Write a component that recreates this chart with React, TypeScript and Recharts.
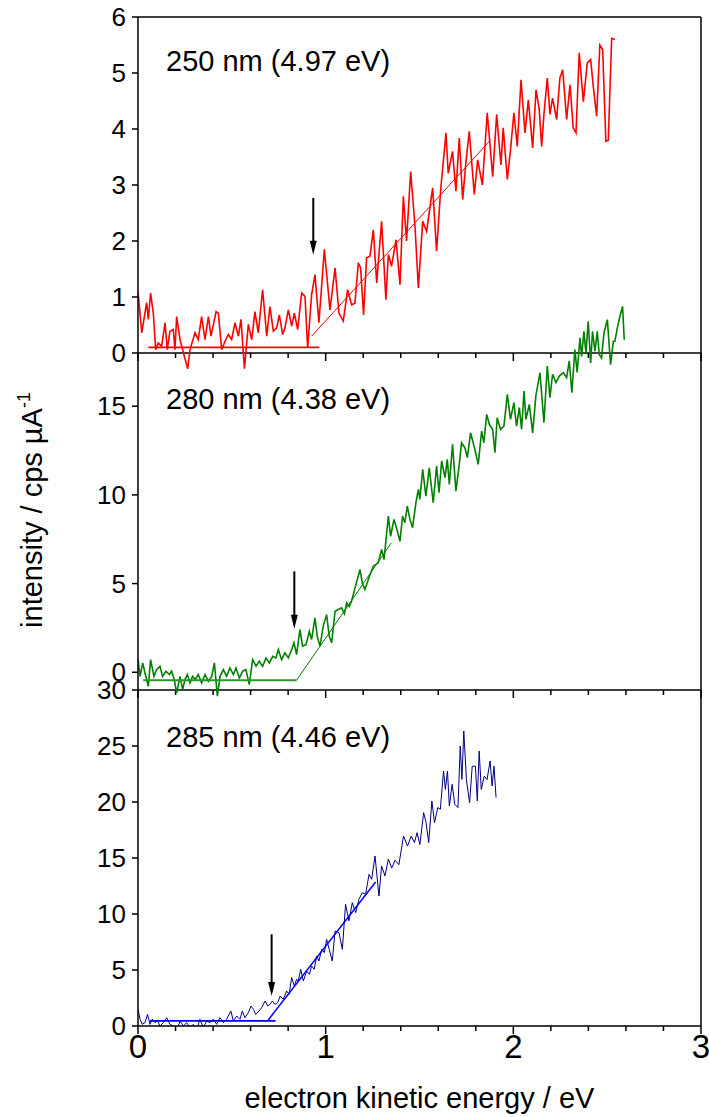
import { ComposedChart, Line, XAxis, YAxis, ReferenceLine, ReferenceDot, Label } from 'recharts';

const FONT = '"Liberation Sans", Arial, sans-serif';

// 250 nm trace (top panel), [eKE / eV, intensity]
const red250: [number, number][] = [
  [0.0, 1.1], [0.02, 0.36], [0.046, 0.9], [0.055, 0.6], [0.067, 1.07], [0.082, 0.7], [0.094, 0.06],
  [0.108, 0.18], [0.126, 0.12], [0.144, 0.54], [0.156, 0.06], [0.17, 0.39], [0.188, 0.42], [0.197, 0.06],
  [0.206, 0.65], [0.224, 0.24], [0.247, -0.06], [0.265, -0.28], [0.277, 0.06], [0.304, 0.36], [0.321, 0.24],
  [0.339, 0.65], [0.357, 0.24], [0.375, 0.65], [0.389, 0.3], [0.416, 0.74], [0.428, 0.71], [0.446, 0.06],
  [0.464, 0.21], [0.481, 0.33], [0.499, 0.24], [0.517, 0.54], [0.535, 0.3], [0.549, 0.6], [0.567, -0.28],
  [0.588, 0.51], [0.606, 0.24], [0.623, 0.74], [0.641, 0.36], [0.664, 1.13], [0.686, 0.3], [0.703, 0.83],
  [0.721, 0.39], [0.739, 0.45], [0.753, 0.68], [0.771, 0.33], [0.783, 0.45], [0.801, 0.77], [0.819, 0.48],
  [0.833, 0.71], [0.851, 0.42], [0.872, 1.07], [0.89, 1.01], [0.904, 0.09], [0.925, 1.04], [0.943, 1.4],
  [0.964, 0.54], [0.993, 1.85], [1.023, 0.77], [1.05, 1.52], [1.071, 0.71], [1.094, 0.57], [1.117, 1.13],
  [1.138, 0.86], [1.156, 0.89], [1.174, 1.61], [1.186, 1.52], [1.202, 0.68], [1.218, 1.7], [1.236, 1.73],
  [1.254, 2.2], [1.272, 1.25], [1.298, 2.35], [1.321, 0.95], [1.334, 1.76], [1.351, 1.55], [1.375, 2.02],
  [1.396, 1.22], [1.414, 2.8], [1.431, 2.0], [1.453, 3.24], [1.476, 2.26], [1.494, 1.16], [1.517, 2.35],
  [1.538, 2.17], [1.57, 2.95], [1.591, 1.82], [1.613, 2.92], [1.641, 3.93], [1.653, 3.21], [1.676, 3.6],
  [1.694, 2.89], [1.712, 3.84], [1.73, 2.74], [1.747, 3.39], [1.765, 3.96], [1.792, 2.83], [1.81, 3.45],
  [1.835, 3.0], [1.861, 4.29], [1.89, 3.15], [1.911, 4.26], [1.934, 3.36], [1.946, 4.02], [1.968, 3.1],
  [1.985, 3.63], [2.003, 4.29], [2.021, 3.69], [2.041, 4.88], [2.062, 3.93], [2.08, 4.52], [2.103, 3.66],
  [2.121, 4.7], [2.138, 4.35], [2.151, 3.69], [2.163, 4.26], [2.181, 4.91], [2.195, 4.26], [2.209, 4.55],
  [2.231, 4.17], [2.248, 4.91], [2.263, 5.06], [2.284, 4.17], [2.302, 4.79], [2.319, 4.02], [2.334, 3.93],
  [2.351, 5.36], [2.373, 4.49], [2.394, 5.18], [2.412, 5.24], [2.426, 4.76], [2.444, 4.23], [2.461, 5.5],
  [2.476, 5.42], [2.493, 3.78], [2.506, 3.8], [2.524, 5.62], [2.541, 5.6],
];

// 280 nm trace (middle panel)
const green280: [number, number][] = [
  [0.0, 0.71], [0.011, -0.23], [0.025, 0.53], [0.037, -0.04], [0.055, -0.79], [0.067, 0.71], [0.085, -0.23],
  [0.099, 0.15], [0.117, 0.34], [0.131, -0.23], [0.149, 0.06], [0.167, -0.13], [0.179, 0.06], [0.193, -0.41],
  [0.206, -1.17], [0.224, -0.23], [0.238, -0.98], [0.25, -0.41], [0.263, -0.13], [0.277, -0.6], [0.291, -0.23],
  [0.305, -0.41], [0.321, -0.13], [0.339, -0.6], [0.357, -0.13], [0.375, -0.51], [0.393, -0.23], [0.407, 0.53],
  [0.423, -1.35], [0.437, -0.23], [0.455, 0.15], [0.472, -0.23], [0.49, 0.24], [0.508, -0.13], [0.522, 0.24],
  [0.54, -0.32], [0.558, 0.06], [0.575, 0.15], [0.593, -0.7], [0.611, 0.71], [0.629, 0.34], [0.646, 0.62],
  [0.664, 0.34], [0.682, 0.81], [0.7, 0.53], [0.718, 0.9], [0.735, 0.81], [0.748, 1.28], [0.765, 0.71],
  [0.783, 1.09], [0.801, 0.81], [0.819, 1.28], [0.831, 1.66], [0.845, 1.0], [0.863, 2.41], [0.877, 1.47],
  [0.895, 1.56], [0.913, 2.31], [0.925, 1.85], [0.943, 3.07], [0.955, 2.03], [0.97, 1.47], [0.987, 2.6],
  [1.005, 3.25], [1.019, 2.03], [1.032, 1.66], [1.05, 3.44], [1.067, 3.54], [1.085, 3.63], [1.1, 3.3],
  [1.112, 3.91], [1.125, 3.7], [1.138, 4.01], [1.16, 4.9], [1.183, 5.79], [1.196, 5.0], [1.209, 4.67],
  [1.236, 5.5], [1.254, 5.98], [1.28, 6.17], [1.298, 6.92], [1.311, 6.36], [1.334, 8.8], [1.346, 7.67],
  [1.364, 8.62], [1.382, 7.96], [1.396, 7.39], [1.41, 8.8], [1.422, 8.43], [1.435, 9.37], [1.449, 8.62],
  [1.463, 8.15], [1.481, 9.56], [1.494, 10.31], [1.502, 9.74], [1.517, 11.44], [1.534, 9.93], [1.552, 11.53],
  [1.573, 9.56], [1.591, 11.63], [1.604, 10.12], [1.618, 11.91], [1.636, 10.97], [1.648, 12.0], [1.659, 10.59],
  [1.676, 12.85], [1.694, 10.21], [1.712, 11.72], [1.724, 12.94], [1.742, 12.66], [1.755, 12.1], [1.772, 13.5],
  [1.795, 12.57], [1.813, 11.72], [1.831, 13.6], [1.843, 12.94], [1.858, 14.54], [1.872, 13.98], [1.89, 13.69],
  [1.902, 12.38], [1.914, 14.35], [1.932, 13.69], [1.95, 13.88], [1.968, 15.67], [1.985, 14.26], [2.003, 15.2],
  [2.017, 13.88], [2.032, 14.92], [2.044, 13.69], [2.057, 15.86], [2.067, 14.26], [2.085, 15.1], [2.103, 13.5],
  [2.12, 15.58], [2.142, 16.89], [2.163, 14.07], [2.181, 17.27], [2.195, 15.48], [2.209, 16.8], [2.227, 16.33],
  [2.245, 16.7], [2.266, 16.89], [2.284, 16.61], [2.298, 17.55], [2.312, 15.76], [2.328, 18.2], [2.34, 16.9],
  [2.355, 18.85], [2.364, 17.8], [2.376, 19.22], [2.387, 18.0], [2.399, 19.78], [2.412, 17.44], [2.422, 19.22],
  [2.435, 18.1], [2.447, 19.22], [2.458, 17.9], [2.47, 17.72], [2.483, 19.13], [2.501, 19.88], [2.518, 17.34],
  [2.533, 18.66], [2.541, 18.66], [2.554, 19.4], [2.568, 20.07], [2.582, 20.63], [2.591, 18.75],
];

// 285 nm trace (bottom panel)
const blue285: [number, number][] = [
  [0.0, 1.49], [0.011, 0.6], [0.023, 0.15], [0.037, 0.3], [0.051, 1.04], [0.064, 0.15], [0.076, 0.6],
  [0.091, 0.3], [0.105, 0.45], [0.117, 0.0], [0.135, 0.3], [0.153, 0.74], [0.17, 0.15], [0.188, 0.0],
  [0.206, -0.45], [0.224, 0.45], [0.242, 0.0], [0.259, 0.3], [0.277, -0.15], [0.295, 0.15], [0.313, -0.3],
  [0.33, 0.6], [0.348, -0.15], [0.366, 0.45], [0.384, 0.3], [0.401, 0.6], [0.419, 0.15], [0.437, 0.74],
  [0.455, 0.3], [0.472, 0.6], [0.495, 1.34], [0.508, 0.45], [0.526, 0.89], [0.543, 0.6], [0.556, 1.34],
  [0.57, 0.74], [0.588, 1.19], [0.602, 1.79], [0.615, 1.49], [0.627, 1.04], [0.645, 1.34], [0.659, 1.64],
  [0.677, 2.23], [0.691, 1.79], [0.703, 1.93], [0.716, 2.23], [0.73, 1.93], [0.744, 2.08], [0.758, 2.68],
  [0.774, 2.38], [0.792, 3.13], [0.805, 2.83], [0.819, 4.32], [0.833, 3.57], [0.845, 4.17], [0.854, 4.02],
  [0.867, 5.06], [0.881, 4.02], [0.899, 4.91], [0.913, 4.61], [0.925, 5.36], [0.939, 5.06], [0.952, 6.25],
  [0.964, 5.8], [0.979, 6.85], [0.993, 6.55], [1.005, 7.74], [1.019, 6.85], [1.035, 5.8], [1.05, 8.48],
  [1.071, 8.33], [1.089, 6.85], [1.106, 10.86], [1.124, 9.38], [1.142, 11.01], [1.16, 10.12], [1.177, 11.31],
  [1.195, 11.9], [1.213, 11.76], [1.231, 13.54], [1.245, 13.1], [1.263, 15.18], [1.284, 11.6], [1.298, 14.29],
  [1.316, 13.4], [1.334, 14.9], [1.352, 14.1], [1.37, 14.8], [1.39, 14.4], [1.415, 16.96], [1.436, 16.07],
  [1.456, 16.96], [1.473, 16.37], [1.487, 17.26], [1.502, 16.2], [1.522, 19.05], [1.535, 18.15], [1.549, 16.37],
  [1.566, 20.09], [1.58, 18.15], [1.597, 19.5], [1.611, 19.35], [1.628, 22.77], [1.638, 21.13], [1.649, 22.77],
  [1.659, 19.64], [1.674, 21.58], [1.688, 19.79], [1.705, 19.5], [1.717, 25.0], [1.726, 22.02], [1.736, 26.34],
  [1.75, 22.0], [1.767, 19.94], [1.781, 23.2], [1.798, 23.2], [1.808, 20.09], [1.818, 24.55], [1.829, 21.13],
  [1.845, 22.32], [1.86, 22.0], [1.876, 23.66], [1.887, 21.43], [1.897, 23.2], [1.908, 20.39],
];

// baseline and threshold fits
const redBase: [number, number][] = [[0.055, 0.1], [0.966, 0.1]];
const redSlope: [number, number][] = [[0.925, 0.3], [1.88, 3.81]];
const greenBase: [number, number][] = [[0.028, -0.45], [0.845, -0.45]];
const greenSlope: [number, number][] = [[0.845, -0.45], [1.35, 7.3]];
const blueBase: [number, number][] = [[0.064, 0.45], [0.733, 0.45]];
const blueSlope: [number, number][] = [[0.694, 0.54], [1.266, 12.86]];

// onset arrows: x, shaft top, tip
const arrows = [
  { panel: 'top', x: 0.934, from: 2.77, to: 1.755 },
  { panel: 'mid', x: 0.833, from: 5.69, to: 2.45 },
  { panel: 'bot', x: 0.712, from: 8.19, to: 2.68 },
];

const labels = ['250 nm (4.97 eV)', '280 nm (4.38 eV)', '285 nm (4.46 eV)'];
const xLabelTicks = [0, 1, 2, 3];
const xMinorTicks = [0, 0.2, 0.4, 0.6, 0.8, 1, 1.2, 1.4, 1.6, 1.8, 2, 2.2, 2.4, 2.6, 2.8, 3];

// pixel edges of the three stacked panels
const EDGES = [17, 353, 690, 1026];

const panels = [
  { id: 'top', lo: 0, hi: 6, top: EDGES[0], bottom: EDGES[1], ticks: [0, 1, 2, 3, 4, 5, 6] },
  { id: 'mid', lo: -1, hi: 18, top: EDGES[1], bottom: EDGES[2], ticks: [0, 5, 10, 15] },
  { id: 'bot', lo: 0, hi: 30, top: EDGES[2], bottom: EDGES[3], ticks: [0, 5, 10, 15, 20, 25, 30] },
];

// axes are stacked on the left; keep them practically zero-wide so they share one line
const AXIS_W = 0.01;

const unitsPerPx = (p: typeof panels[number]) => (p.hi - p.lo) / (p.bottom - p.top);

// every panel axis spans the whole plot height, so the traces can spill over like the original
const fullDomain = (p: typeof panels[number]): [number, number] => {
  const k = unitsPerPx(p);
  return [p.lo - (EDGES[3] - p.bottom) * k, p.hi + (p.top - EDGES[0]) * k];
};

const toPts = (arr: [number, number][]) => arr.map(([x, y]) => ({ x, y }));
const panelOf = (id: string) => panels.find((p) => p.id === id)!;

const axisStroke = { stroke: '#000', strokeWidth: 1.5 };

const XTitle = (props: any) => {
  const vb = props.viewBox;
  return (
    <text x={vb.x + vb.width / 2} y={vb.y + 82} textAnchor="middle" fontSize={29} fontFamily={FONT} fill="#000">
      electron kinetic energy / eV
    </text>
  );
};

const YTitle = () => (
  <text transform="translate(42,510) rotate(-90)" textAnchor="middle" fontSize={29} fontFamily={FONT} fill="#000">
    intensity / cps µA
    <tspan dy={-12} fontSize={18}>-1</tspan>
  </text>
);

export default function App() {
  const traces = [
    { id: 'top', data: red250, color: '#ff0000', w: 1.6 },
    { id: 'mid', data: green280, color: '#008000', w: 1.6 },
    { id: 'bot', data: blue285, color: '#000080', w: 1 },
  ];
  const fits = [
    { id: 'top', data: redBase, color: '#ff0000', w: 1.8 },
    { id: 'top', data: redSlope, color: '#ff0000', w: 1 },
    { id: 'mid', data: greenBase, color: '#2a962a', w: 1.8 },
    { id: 'mid', data: greenSlope, color: '#008000', w: 1 },
    { id: 'bot', data: blueBase, color: '#0000ff', w: 1.8 },
    { id: 'bot', data: blueSlope, color: '#0000ff', w: 1.5 },
  ];

  return (
    <div style={{ position: 'absolute', left: 0, top: 0, width: 709, height: 1117, background: '#fff' }}>
      <ComposedChart width={709} height={1117} margin={{ top: 17, right: 8, bottom: 51, left: 138 - 3 * AXIS_W }}>
        <XAxis
          dataKey="x"
          type="number"
          domain={[0, 3]}
          ticks={xLabelTicks}
          interval={0}
          allowDataOverflow
          height={40}
          axisLine={axisStroke}
          tickLine={false}
          tickSize={7}
          tickMargin={2}
          tick={{ fontSize: 33, fill: '#000', fontFamily: FONT }}
        >
          <Label content={XTitle} />
        </XAxis>
        {panels.map((p) => (
          <YAxis
            key={p.id}
            yAxisId={p.id}
            type="number"
            domain={fullDomain(p)}
            ticks={p.ticks}
            interval={0}
            allowDataOverflow
            width={AXIS_W}
            axisLine={p.id === 'top' ? axisStroke : false}
            tickLine={axisStroke}
            tickSize={6}
            tickMargin={6}
            tick={{ fontSize: 26, fill: '#000', fontFamily: FONT }}
          >
            {p.id === 'top' ? <Label content={YTitle} /> : null}
          </YAxis>
        ))}

        {/* panel frame */}
        <ReferenceLine yAxisId="top" y={6} stroke="#000" strokeWidth={1.5} />
        <ReferenceLine yAxisId="top" y={0} stroke="#000" strokeWidth={1.5} />
        <ReferenceLine yAxisId="mid" y={-1} stroke="#000" strokeWidth={1.5} />
        <ReferenceLine yAxisId="top" x={3} stroke="#000" strokeWidth={1.5} />

        {/* x ticks hanging below each panel */}
        {panels.flatMap((p) =>
          xMinorTicks.map((t) => {
            const len = Number.isInteger(t) ? 8 : 5;
            return (
              <ReferenceLine
                key={`${p.id}-${t}`}
                yAxisId={p.id}
                segment={[{ x: t, y: p.lo }, { x: t, y: p.lo - len * unitsPerPx(p) }]}
                stroke="#000"
                strokeWidth={1.5}
                ifOverflow="visible"
              />
            );
          })
        )}

        {traces.map((s) => (
          <Line
            key={s.id}
            yAxisId={s.id}
            data={toPts(s.data)}
            dataKey="y"
            type="linear"
            stroke={s.color}
            strokeWidth={s.w}
            dot={false}
            activeDot={false}
            isAnimationActive={false}
          />
        ))}
        {fits.map((s, i) => (
          <Line
            key={`fit-${i}`}
            yAxisId={s.id}
            data={toPts(s.data)}
            dataKey="y"
            type="linear"
            stroke={s.color}
            strokeWidth={s.w}
            dot={false}
            activeDot={false}
            isAnimationActive={false}
          />
        ))}

        {arrows.map((a) => {
          const k = unitsPerPx(panelOf(a.panel));
          return (
            <ReferenceLine
              key={`shaft-${a.panel}`}
              yAxisId={a.panel}
              segment={[{ x: a.x, y: a.from }, { x: a.x, y: a.to + 10 * k }]}
              stroke="#000"
              strokeWidth={2}
              ifOverflow="visible"
            />
          );
        })}
        {arrows.map((a) => (
          <ReferenceDot
            key={`head-${a.panel}`}
            yAxisId={a.panel}
            x={a.x}
            y={a.to}
            ifOverflow="visible"
            shape={(props: any) => (
              <path
                d={`M${props.cx - 3.5},${props.cy - 14} L${props.cx + 3.5},${props.cy - 14} L${props.cx},${props.cy} Z`}
                fill="#000"
              />
            )}
          />
        ))}
      </ComposedChart>
      <svg width={709} height={1117} style={{ position: 'absolute', left: 0, top: 0, pointerEvents: 'none' }}>
        {labels.map((t, i) => (
          <text key={t} x={166} y={71 + i * 338} fontSize={29} fontFamily={FONT} fill="#000">
            {t}
          </text>
        ))}
      </svg>
    </div>
  );
}
